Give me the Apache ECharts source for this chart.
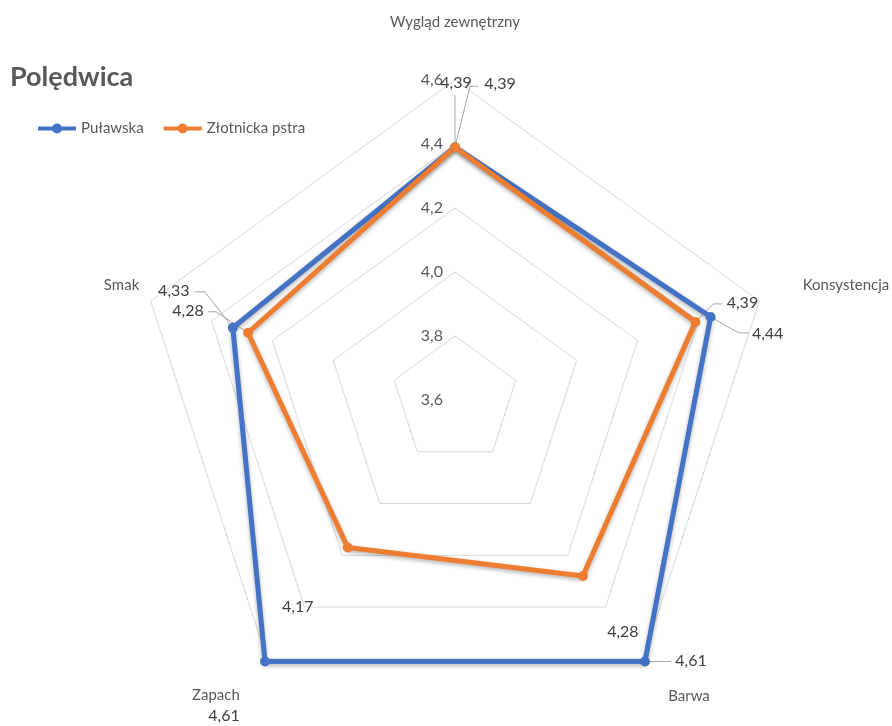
<!DOCTYPE html>
<html>
<head>
<meta charset="utf-8">
<script src="https://cdn.jsdelivr.net/npm/echarts@6/dist/echarts.min.js"></script>
<style>
  html, body { margin: 0; padding: 0; background: #ffffff; }
  #chart { width: 892px; height: 726px; }
</style>
</head>
<body>
<div id="chart"></div>
<script>
// Sensory scores of pork loin, by breed (categories in clockwise order from the top)
const categories = ['Wygląd zewnętrzny', 'Konsystencja', 'Barwa', 'Zapach', 'Smak'];
const seriesNames = ['Puławska', 'Złotnicka pstra'];
const pulawska = [4.39, 4.44, 4.61, 4.61, 4.33];
const zlotnicka = [4.39, 4.39, 4.28, 4.17, 4.28];
const tickLabels = ['3,6', '3,8', '4,0', '4,2', '4,4', '4,6'];
const axisMin = 3.6;
const axisMax = 4.6;

const seriesValues = [pulawska, zlotnicka];
const colors = ['#4472C4', '#ED7D31'];
const FONT = 'Lato, "Open Sans", sans-serif';
const TEXT = '#595959';

// ECharts places indicators counter-clockwise, so walk the categories in that direction
const order = [0, 4, 3, 2, 1];

// Per-name nudges for the indicator captions (padding: top, right, bottom, left)
const namePadding = [
  [0, 0, 38, 0],
  [0, 0, 24, 32],
  [56, 0, 0, 18],
  [54, 20, 0, 0],
  [0, 0, 24, 0]
];

// Data-label placement relative to each point, with optional leader line
const labelPlacement = [
  [
    { dx: 1, dy: -64, line: [[0, 0], [0, -52]] },
    { dx: 57, dy: 17, line: [[0, 0], [28, 16], [38, 16]] },
    { dx: 46, dy: -1, line: [[0, 0], [26, 0]] },
    { dx: -41, dy: 54 },
    { dx: -59, dy: -37, line: [[0, 0], [-28, -36], [-38, -36]] }
  ],
  [
    { dx: 45, dy: -63, line: [[0, 0], [15, -61], [23, -61]] },
    { dx: 47, dy: -19, line: [[0, 0], [18, -18], [27, -18]] },
    { dx: 40, dy: 56 },
    { dx: -50, dy: 59 },
    { dx: -60, dy: -22, line: [[0, 0], [-32, -21], [-40, -21]] }
  ]
];

const fmt = v => v.toFixed(2).replace('.', ',');

const rich = {};
categories.forEach((c, i) => {
  rich['n' + i] = {
    fontFamily: FONT, fontSize: 15, color: TEXT,
    padding: namePadding[i]
  };
});

const indicator = order.map((ci, k) => {
  const ind = { name: categories[ci], min: axisMin, max: axisMax };
  if (k === 0) {
    ind.axisLabel = {
      show: true, color: TEXT,
      margin: 12, showMinLabel: true, showMaxLabel: true, hideOverlap: false,
      formatter: v => '{t|' + tickLabels[Math.round((v - axisMin) / 0.2)] + '}',
      rich: { t: { fontFamily: FONT, fontSize: 16, color: TEXT } }
    };
  }
  return ind;
});

const legendIcon = 'path://M0,3L38,3L38,7L0,7Z M14,5A5,5,0,1,1,24,5A5,5,0,1,1,14,5Z';

const chart = echarts.init(document.getElementById('chart'), null, { renderer: 'canvas' });

chart.setOption({
  backgroundColor: '#ffffff',
  animation: false,
  title: {
    text: 'Polędwica',
    left: 5, top: 59,
    textStyle: { fontFamily: FONT, fontSize: 27, fontWeight: 'bold', color: TEXT }
  },
  legend: {
    data: seriesNames.map((n, i) => ({ name: n, icon: legendIcon, itemStyle: { color: colors[i] } })),
    left: 33, top: 116,
    itemWidth: 38, itemHeight: 10, itemGap: 20,
    textStyle: { fontFamily: FONT, fontSize: 15, color: TEXT }
  },
  radar: {
    center: [455, 400],
    radius: 320,
    startAngle: 90,
    shape: 'polygon',
    splitNumber: 5,
    nameGap: 12,
    indicator: indicator,
    axisName: {
      formatter: name => '{n' + categories.indexOf(name) + '|' + name + '}',
      rich: rich
    },
    axisLine: { show: false },
    axisTick: { show: false },
    axisLabel: { show: false },
    splitLine: { lineStyle: { color: '#d9d9d9', width: 1 } },
    splitArea: { show: false }
  },
  series: [{
    type: 'radar',
    symbol: 'circle',
    symbolSize: 10,
    data: seriesValues.map((vals, si) => ({
      name: seriesNames[si],
      value: order.map(ci => vals[ci]),
      itemStyle: { color: colors[si] },
      lineStyle: {
        color: colors[si], width: 5,
        shadowBlur: 4, shadowColor: 'rgba(0,0,0,0.3)', shadowOffsetY: 2
      }
    }))
  }]
});

// Value labels with leader lines, positioned from the radar's own scale
const radarCS = chart.getModel().getComponent('radar').coordinateSystem;
const graphics = [];
seriesValues.forEach((vals, si) => {
  vals.forEach((v, ci) => {
    const p = radarCS.dataToPoint(v, order.indexOf(ci));
    const place = labelPlacement[si][ci];
    if (place.line) {
      graphics.push({
        type: 'polyline',
        silent: true,
        z: 1,
        shape: { points: place.line.map(q => [p[0] + q[0], p[1] + q[1]]) },
        style: { stroke: '#a6a6a6', lineWidth: 1, fill: null }
      });
    }
    graphics.push({
      type: 'text',
      silent: true,
      z: 5,
      x: p[0] + place.dx,
      y: p[1] + place.dy,
      style: {
        text: fmt(v),
        fill: '#404040',
        font: '16px ' + FONT,
        align: 'center',
        verticalAlign: 'middle'
      }
    });
  });
});
chart.setOption({ graphic: graphics });
</script>
</body>
</html>
